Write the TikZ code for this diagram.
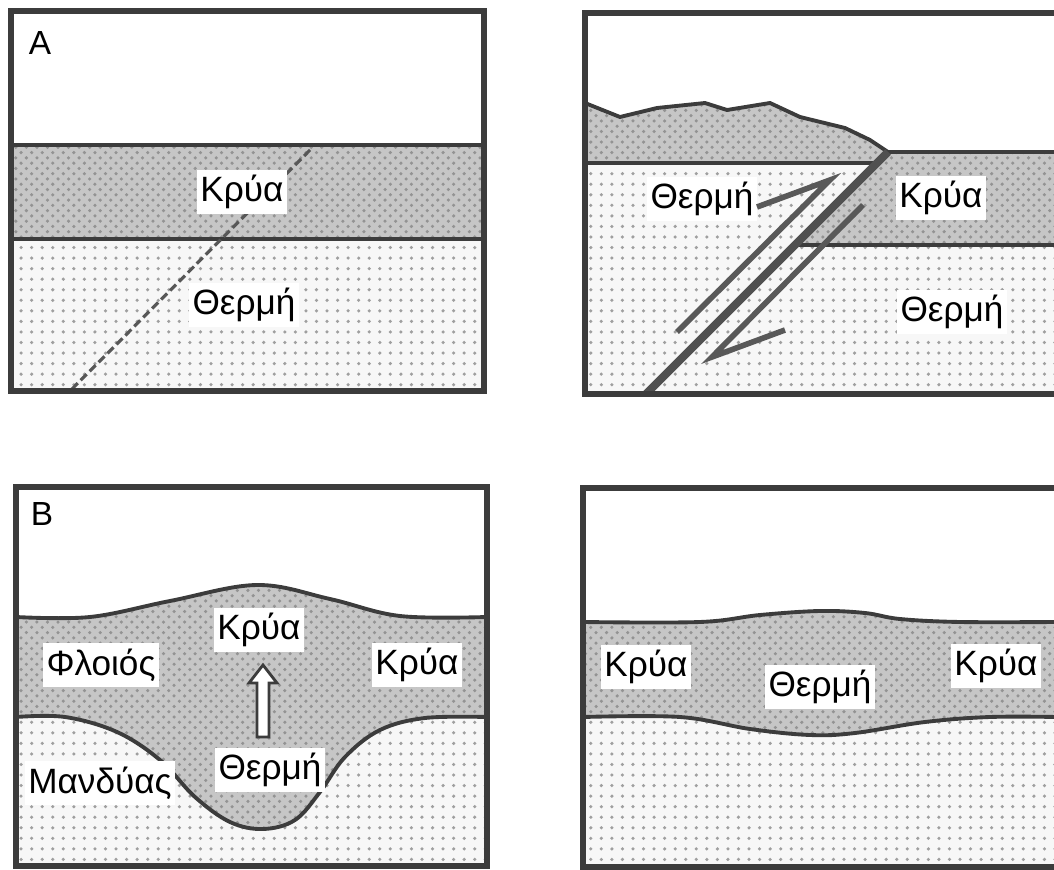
\documentclass[tikz,border=0pt]{standalone}
\usepackage{fontspec}
\setmainfont{Liberation Sans}
\usetikzlibrary{patterns}
\definecolor{rockline}{HTML}{3C3C3C}
\definecolor{crustgray}{HTML}{C6C6C6}
\tikzset{
  panelframe/.style={draw=rockline,line width=1.7pt},
  bedline/.style={draw=rockline,line width=1.1pt,line join=round},
  crust/.style={fill=crustgray,postaction={pattern=crosshatch dots,pattern color=gray!85}},
  mantle/.style={fill=gray!6,postaction={pattern=dots,pattern color=gray!75}},
  lbl/.style={fill=white,inner xsep=1pt,inner ysep=1.5pt,font=\fontsize{10}{12}\selectfont},
  tag/.style={inner sep=0pt,font=\fontsize{9.5}{11}\selectfont},
  fault/.style={draw=rockline!90,line width=2.3pt},
  slip/.style={draw=rockline!85,line width=1.6pt,line join=miter}
}

\begin{document}
\begin{tikzpicture}[x=0.01cm,y=-0.01cm]
\useasboundingbox (0,0) rectangle (1054,870);
% A, before faulting
\begin{scope}
\path[mantle] (11,239) rectangle (484,391);
\path[crust] (11,145) rectangle (484,239);
\draw[bedline] (11,145) -- (484,145);
\draw[bedline] (11,239) -- (484,239);
\draw[gray!40!rockline,line width=0.9pt,dash pattern=on 2.4pt off 1.2pt] (310,150) -- (72,389);
\draw[panelframe] (11,11) rectangle (484,391);
\node[tag] (tagA) at (40,43) {A};
\node[lbl] (coldA) at (242,192) {Κρύα};
\node[lbl] (hotA) at (244,305) {Θερμή};
\end{scope}
% A, after faulting
\begin{scope}
\coordinate (ftop) at (888,152);
\coordinate (fbot) at (646,394);
\path[mantle] (585,163) -- (877,163) -- (fbot) -- (585,394) -- cycle;
\path[mantle] (795,245) -- (1057,245) -- (1057,394) -- (fbot) -- cycle;
\path[crust] (585,103) -- (620,117) -- (657,108) -- (705,103) -- (727,110) -- (770,103)
  -- (800,117) -- (845,128) -- (870,140) -- (ftop) -- (877,163) -- (585,163) -- cycle;
\path[crust] (ftop) -- (1057,152) -- (1057,245) -- (795,245) -- cycle;
\draw[bedline] (585,103) -- (620,117) -- (657,108) -- (705,103) -- (727,110) -- (770,103)
  -- (800,117) -- (845,128) -- (870,140) -- (ftop) -- (1057,152);
\draw[bedline] (585,163) -- (877,163);
\draw[bedline] (795,245) -- (1057,245);
\node[lbl] (hotL) at (702,199) {Θερμή};
\node[lbl] (coldR) at (941,198) {Κρύα};
\node[lbl] (hotR) at (952,312) {Θερμή};
\draw[fault] (ftop) -- (fbot);
\draw[slip] (677,332) -- (830,180) -- (757,207);
\draw[slip] (863,205) -- (712,357) -- (785,330);
\draw[panelframe] (585,13) rectangle (1057,394);
\end{scope}
% B, thickened crust
\begin{scope}
\path[mantle] (16,866) -- plot[smooth,tension=0.6] coordinates {(16,717) (65,717) (117,732) (160,760) (195,797) (230,822) (263,829) (295,820) (320,792) (345,757) (380,730) (425,718) (487,717)} -- (487,866) -- cycle;
\path[crust] plot[smooth,tension=0.6] coordinates {(16,617) (90,617) (170,601) (257,585) (330,599) (400,616) (487,617)}
  -- plot[smooth,tension=0.6] coordinates {(487,717) (425,718) (380,730) (345,757) (320,792) (295,820) (263,829) (230,822) (195,797) (160,760) (117,732) (65,717) (16,717)} -- cycle;
\draw[bedline] plot[smooth,tension=0.6] coordinates {(16,617) (90,617) (170,601) (257,585) (330,599) (400,616) (487,617)};
\draw[bedline] plot[smooth,tension=0.6] coordinates {(16,717) (65,717) (117,732) (160,760) (195,797) (230,822) (263,829) (295,820) (320,792) (345,757) (380,730) (425,718) (487,717)};
\draw[rockline,line width=0.8pt,fill=white] (257,737) -- (257,683) -- (249,683) -- (263,665)
  -- (277,683) -- (269,683) -- (269,737) -- cycle;
\draw[panelframe] (16,487) rectangle (487,866);
\node[tag] (tagB) at (42,514) {B};
\node[lbl] (coldTop) at (259,630) {Κρύα};
\node[lbl] (crustB) at (101,665) {Φλοιός};
\node[lbl] (coldSide) at (417,665) {Κρύα};
\node[lbl] (hotRoot) at (270,770) {Θερμή};
\node[lbl] (mantleB) at (100,783) {Μανδύας};
\end{scope}
% B, after relaxation
\begin{scope}
\path[mantle] (583,867) -- plot[smooth,tension=0.6] coordinates {(583,717) (680,717) (750,729) (810,735) (855,733) (925,722) (990,717) (1057,717)} -- (1057,867) -- cycle;
\path[crust] plot[smooth,tension=0.6] coordinates {(583,622) (700,622) (760,615) (820,611) (865,613) (900,619) (960,622) (1057,622)}
  -- plot[smooth,tension=0.6] coordinates {(1057,717) (990,717) (925,722) (855,733) (810,735) (750,729) (680,717) (583,717)} -- cycle;
\draw[bedline] plot[smooth,tension=0.6] coordinates {(583,622) (700,622) (760,615) (820,611) (865,613) (900,619) (960,622) (1057,622)};
\draw[bedline] plot[smooth,tension=0.6] coordinates {(583,717) (680,717) (750,729) (810,735) (855,733) (925,722) (990,717) (1057,717)};
\draw[panelframe] (583,488) rectangle (1057,867);
\node[lbl] (coldL) at (646,667) {Κρύα};
\node[lbl] (hotMid) at (820,687) {Θερμή};
\node[lbl] (coldRt) at (996,666) {Κρύα};
\end{scope}
\end{tikzpicture}
\end{document}
